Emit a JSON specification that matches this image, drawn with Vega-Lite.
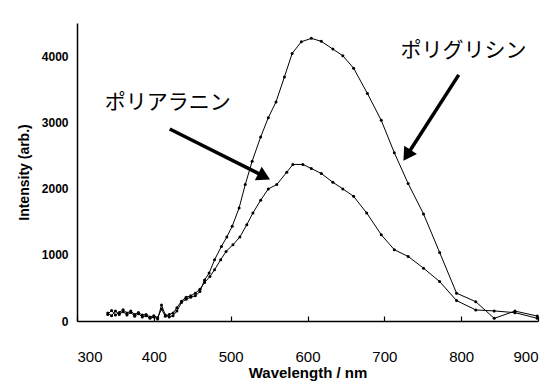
{
  "$schema": "https://vega.github.io/schema/vega-lite/v6.json",
  "autosize": {"type": "none"},
  "padding": {"left": 77, "top": 23, "right": 13, "bottom": 60},
  "width": 461,
  "height": 298,
  "background": "white",
  "config": {"view": {"stroke": null}},
  "datasets": {
    "spectra": [
      {"series": "G", "x": 340, "y": 120}, {"series": "G", "x": 345, "y": 80}, {"series": "G", "x": 350, "y": 150}, {"series": "G", "x": 355, "y": 100}, {"series": "G", "x": 360, "y": 140}, {"series": "G", "x": 365, "y": 90}, {"series": "G", "x": 370, "y": 130}, {"series": "G", "x": 375, "y": 70}, {"series": "G", "x": 380, "y": 110}, {"series": "G", "x": 385, "y": 60}, {"series": "G", "x": 390, "y": 80}, {"series": "G", "x": 395, "y": 40}, {"series": "G", "x": 400, "y": 60}, {"series": "G", "x": 405, "y": 30}, {"series": "G", "x": 410, "y": 240}, {"series": "G", "x": 415, "y": 90}, {"series": "G", "x": 420, "y": 60}, {"series": "G", "x": 425, "y": 80}, {"series": "G", "x": 430, "y": 150}, {"series": "G", "x": 436, "y": 280}, {"series": "G", "x": 442, "y": 330}, {"series": "G", "x": 448, "y": 360}, {"series": "G", "x": 454, "y": 380}, {"series": "G", "x": 460, "y": 444}, {"series": "G", "x": 466, "y": 621}, {"series": "G", "x": 472, "y": 723}, {"series": "G", "x": 479, "y": 924}, {"series": "G", "x": 488, "y": 1126}, {"series": "G", "x": 495, "y": 1270}, {"series": "G", "x": 502, "y": 1429}, {"series": "G", "x": 511, "y": 1708}, {"series": "G", "x": 519, "y": 2060}, {"series": "G", "x": 528, "y": 2414}, {"series": "G", "x": 539, "y": 2777}, {"series": "G", "x": 549, "y": 3071}, {"series": "G", "x": 559, "y": 3308}, {"series": "G", "x": 570, "y": 3686}, {"series": "G", "x": 580, "y": 4040}, {"series": "G", "x": 592, "y": 4217}, {"series": "G", "x": 605, "y": 4268}, {"series": "G", "x": 618, "y": 4223}, {"series": "G", "x": 633, "y": 4106}, {"series": "G", "x": 646, "y": 4005}, {"series": "G", "x": 660, "y": 3818}, {"series": "G", "x": 678, "y": 3435}, {"series": "G", "x": 696, "y": 3030}, {"series": "G", "x": 713, "y": 2541}, {"series": "G", "x": 731, "y": 2076}, {"series": "G", "x": 751, "y": 1617}, {"series": "G", "x": 772, "y": 1035}, {"series": "G", "x": 794, "y": 420}, {"series": "G", "x": 819, "y": 292}, {"series": "G", "x": 843, "y": 40}, {"series": "G", "x": 870, "y": 150}, {"series": "G", "x": 899, "y": 75},
      {"series": "A", "x": 340, "y": 100}, {"series": "A", "x": 345, "y": 160}, {"series": "A", "x": 350, "y": 90}, {"series": "A", "x": 355, "y": 130}, {"series": "A", "x": 360, "y": 170}, {"series": "A", "x": 365, "y": 120}, {"series": "A", "x": 370, "y": 150}, {"series": "A", "x": 375, "y": 100}, {"series": "A", "x": 380, "y": 130}, {"series": "A", "x": 385, "y": 90}, {"series": "A", "x": 390, "y": 100}, {"series": "A", "x": 395, "y": 60}, {"series": "A", "x": 400, "y": 80}, {"series": "A", "x": 405, "y": 50}, {"series": "A", "x": 410, "y": 180}, {"series": "A", "x": 415, "y": 70}, {"series": "A", "x": 420, "y": 100}, {"series": "A", "x": 425, "y": 120}, {"series": "A", "x": 430, "y": 200}, {"series": "A", "x": 436, "y": 300}, {"series": "A", "x": 442, "y": 360}, {"series": "A", "x": 448, "y": 380}, {"series": "A", "x": 454, "y": 420}, {"series": "A", "x": 460, "y": 480}, {"series": "A", "x": 466, "y": 580}, {"series": "A", "x": 473, "y": 671}, {"series": "A", "x": 479, "y": 773}, {"series": "A", "x": 487, "y": 924}, {"series": "A", "x": 494, "y": 1050}, {"series": "A", "x": 503, "y": 1152}, {"series": "A", "x": 512, "y": 1268}, {"series": "A", "x": 521, "y": 1455}, {"series": "A", "x": 529, "y": 1632}, {"series": "A", "x": 539, "y": 1823}, {"series": "A", "x": 549, "y": 1995}, {"series": "A", "x": 560, "y": 2060}, {"series": "A", "x": 573, "y": 2247}, {"series": "A", "x": 581, "y": 2364}, {"series": "A", "x": 594, "y": 2364}, {"series": "A", "x": 605, "y": 2303}, {"series": "A", "x": 618, "y": 2227}, {"series": "A", "x": 633, "y": 2095}, {"series": "A", "x": 646, "y": 1995}, {"series": "A", "x": 660, "y": 1883}, {"series": "A", "x": 677, "y": 1632}, {"series": "A", "x": 696, "y": 1303}, {"series": "A", "x": 713, "y": 1076}, {"series": "A", "x": 731, "y": 975}, {"series": "A", "x": 751, "y": 798}, {"series": "A", "x": 772, "y": 596}, {"series": "A", "x": 794, "y": 308}, {"series": "A", "x": 819, "y": 167}, {"series": "A", "x": 843, "y": 152}, {"series": "A", "x": 870, "y": 126}, {"series": "A", "x": 899, "y": 41}
    ],
    "arrows": [
      {"x": 420.7, "y": 2900, "x2": 543.6, "y2": 2183, "angle": 26.6},
      {"x": 796.8, "y": 3717, "x2": 729.5, "y2": 2502, "angle": 122.8}
    ],
    "labels": [
      {"x": 418, "y": 3293, "text": "ポリアラニン"},
      {"x": 803, "y": 4080, "text": "ポリグリシン"}
    ]
  },
  "layer": [
    {
      "data": {"name": "spectra"},
      "mark": {"type": "line", "color": "black", "strokeWidth": 1, "point": {"filled": true, "size": 9, "color": "black"}},
      "encoding": {
        "x": {"field": "x", "type": "quantitative", "scale": {"domain": [300, 900], "nice": false},
          "axis": {"title": "Wavelength / nm", "values": [300, 400, 500, 600, 700, 800, 900], "grid": false, "format": "d",
            "domainColor": "black", "domainWidth": 1.5, "tickColor": "black", "tickSize": -5, "tickWidth": 1.2,
            "labelPadding": 33, "labelFont": "Liberation Sans", "labelFontSize": 15, "labelColor": "black",
            "titleFont": "Liberation Sans", "titleFontSize": 15, "titleFontWeight": "bold", "titleColor": "black", "titlePadding": 1}},
        "y": {"field": "y", "type": "quantitative", "scale": {"domain": [0, 4500], "nice": false},
          "axis": {"title": "Intensity (arb.)", "values": [0, 500, 1000, 1500, 2000, 2500, 3000, 3500, 4000, 4500], "grid": false, "format": "d",
            "domainColor": "black", "domainWidth": 1.5, "ticks": false,
            "labelPadding": 9, "labelFont": "Liberation Sans", "labelFontSize": 12, "labelFontWeight": "bold", "labelColor": "black",
            "titleFont": "Liberation Sans", "titleFontSize": 14, "titleFontWeight": "bold", "titleColor": "black", "titlePadding": 10}},
        "detail": {"field": "series", "type": "nominal"}
      }
    },
    {
      "data": {"name": "arrows"},
      "mark": {"type": "rule", "color": "black", "strokeWidth": 3.5},
      "encoding": {
        "x": {"field": "x", "type": "quantitative"},
        "y": {"field": "y", "type": "quantitative"},
        "x2": {"field": "x2"},
        "y2": {"field": "y2"}
      }
    },
    {
      "data": {"name": "arrows"},
      "mark": {"type": "point", "shape": "triangle-right", "filled": true, "color": "black", "size": 230, "opacity": 1},
      "encoding": {
        "x": {"field": "x2", "type": "quantitative"},
        "y": {"field": "y2", "type": "quantitative"},
        "angle": {"field": "angle", "type": "quantitative", "scale": null}
      }
    },
    {
      "data": {"name": "labels"},
      "mark": {"type": "text", "font": "Noto Sans CJK JP", "fontSize": 21, "color": "black", "align": "center", "baseline": "middle"},
      "encoding": {
        "x": {"field": "x", "type": "quantitative"},
        "y": {"field": "y", "type": "quantitative"},
        "text": {"field": "text"}
      }
    }
  ]
}
